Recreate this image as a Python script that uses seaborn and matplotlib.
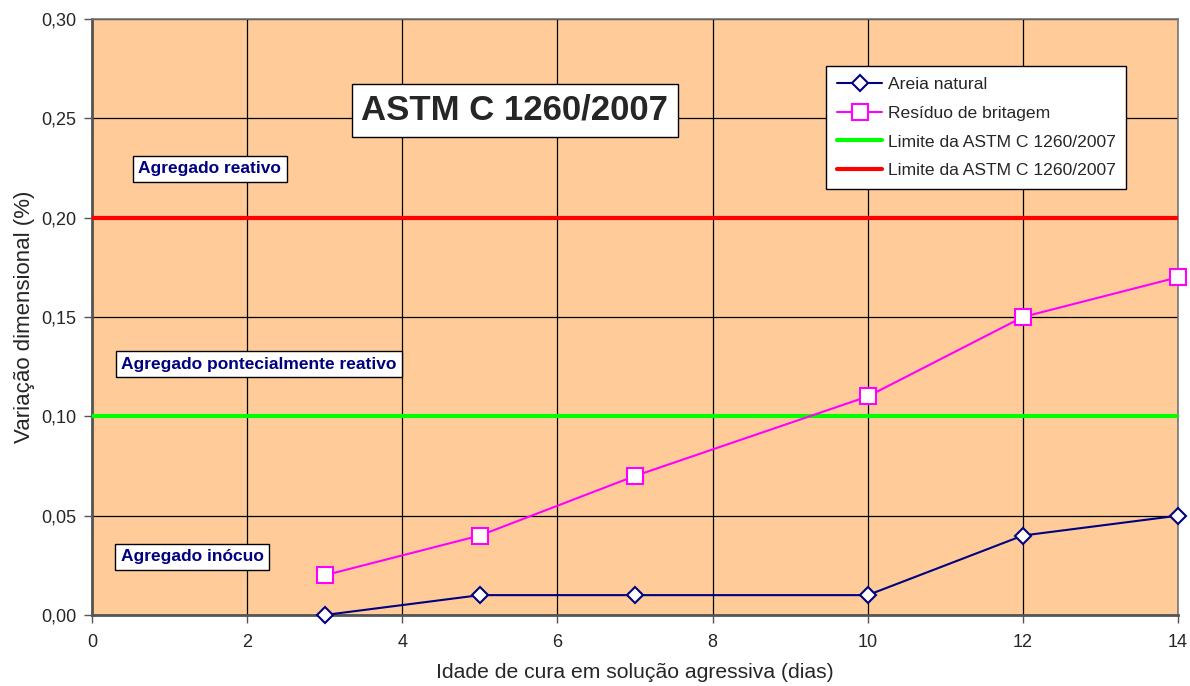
import matplotlib
matplotlib.use("Agg")
import matplotlib.pyplot as plt
import seaborn as sns
import pandas as pd
from matplotlib.ticker import FuncFormatter

# Data
idade = [3, 5, 7, 10, 12, 14]
areia_natural = [0.00, 0.01, 0.01, 0.01, 0.04, 0.05]
residuo_britagem = [0.02, 0.04, 0.07, 0.11, 0.15, 0.17]
limite_inferior = 0.10
limite_superior = 0.20
series_names = ["Areia natural", "Resíduo de britagem",
                "Limite da ASTM C 1260/2007", "Limite da ASTM C 1260/2007"]
x_label = "Idade de cura em solução agressiva (dias)"
y_label = "Variação dimensional (%)"
title_text = "ASTM C 1260/2007"
zone_labels = ["Agregado reativo", "Agregado pontecialmente reativo", "Agregado inócuo"]

sns.set_style("white")
plt.rcParams['font.family'] = ['Liberation Sans', 'DejaVu Sans']

fig = plt.figure(figsize=(11.9, 6.86), dpi=100)
ax = fig.add_axes([92/1190, 1-615/686, (1178-92)/1190, (615-19)/686])
ax.set_facecolor("#FFCC99")

df1 = pd.DataFrame({"x": idade, "y": areia_natural})
df2 = pd.DataFrame({"x": idade, "y": residuo_britagem})

ax.set_xlim(0, 14)
ax.set_ylim(0, 0.30)
ax.set_xticks(range(0, 15, 2))
ax.set_yticks([0, 0.05, 0.10, 0.15, 0.20, 0.25, 0.30])
ax.grid(True, color="black", linewidth=0.9)
ax.set_axisbelow(True)

sns.lineplot(data=df1, x="x", y="y", ax=ax, color="#000080", linewidth=1.5,
             marker="D", markersize=8.5, markerfacecolor="white",
             markeredgecolor="#000080", markeredgewidth=1.5,
             label=series_names[0], zorder=5, clip_on=False)
sns.lineplot(data=df2, x="x", y="y", ax=ax, color="#FF00FF", linewidth=1.5,
             marker="s", markersize=11.5, markerfacecolor="white",
             markeredgecolor="#FF00FF", markeredgewidth=1.5,
             label=series_names[1], zorder=5, clip_on=False)
ax.axhline(limite_inferior, color="#00FF00", linewidth=3, label=series_names[2], zorder=4)
ax.axhline(limite_superior, color="#FF0000", linewidth=3, label=series_names[3], zorder=4)

ax.yaxis.set_major_formatter(FuncFormatter(lambda v, p: f"{v:.2f}".replace(".", ",")))
ax.tick_params(axis="both", labelsize=13, length=6, width=1, color="#555555",
               bottom=True, left=True, direction="out")
ax.tick_params(axis="x", pad=8)
ax.tick_params(axis="y", pad=5)
for side in ["left", "bottom"]:
    ax.spines[side].set_color("#555555")
    ax.spines[side].set_linewidth(2)
for side in ["top", "right"]:
    ax.spines[side].set_color("#777777")
    ax.spines[side].set_linewidth(1.2)

ax.set_xlabel(x_label, fontsize=15.2, labelpad=8)
ax.set_ylabel(y_label, fontsize=16, labelpad=5)

leg = ax.legend(loc="upper right", bbox_to_anchor=(1126/1190, 1-66/686),
                bbox_transform=fig.transFigure, fontsize=12.6, frameon=True,
                fancybox=False, edgecolor="black", framealpha=1, borderaxespad=0,
                borderpad=0.6, labelspacing=0.78, handlelength=2.6, handletextpad=0.3)
leg.get_frame().set_linewidth(1)

ax.text(5.45, 0.254, title_text, fontsize=25, fontweight="bold", ha="center", va="center",
        bbox=dict(boxstyle="square,pad=0.28", facecolor="white", edgecolor="black", linewidth=1),
        zorder=6)

zone_pos = [(1.52, 0.2245), (2.15, 0.1263), (1.29, 0.0292)]
for txt, (xp, yp) in zip(zone_labels, zone_pos):
    ax.text(xp, yp, txt, fontsize=12.5, fontweight="bold", color="#000080",
            ha="center", va="center",
            bbox=dict(boxstyle="square,pad=0.3", facecolor="white", edgecolor="black", linewidth=1),
            zorder=6)

fig.savefig("out.png", dpi=100)
